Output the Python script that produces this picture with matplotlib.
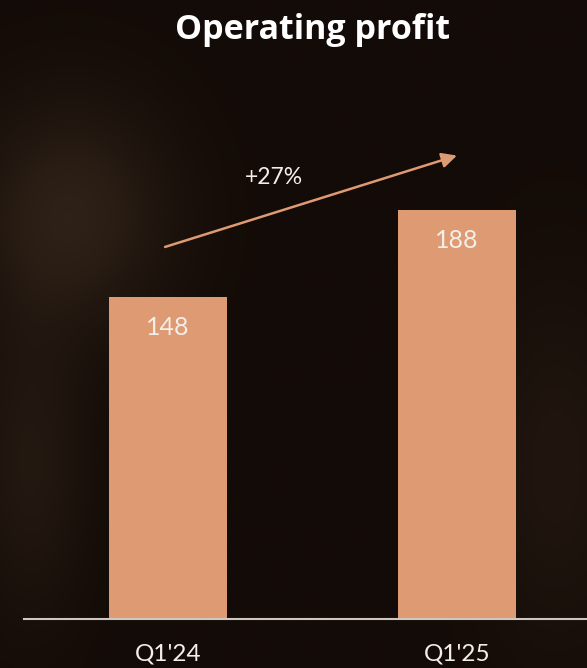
import matplotlib
matplotlib.use('Agg')
import matplotlib.pyplot as plt
import numpy as np

# data
quarters = ["Q1'24", "Q1'25"]
profit = [148, 188]
growth_label = '+27%'

bar_col = '#DE9A72'
bg_col = '#1b120d'
txt_col = '#F4EEE8'

plt.rcParams['font.family'] = ['Lato', 'DejaVu Sans']

fig = plt.figure(figsize=(5.87, 6.68), dpi=100)
fig.patch.set_facecolor(bg_col)

# soft brown background glow
bg = fig.add_axes([0, 0, 1, 1], zorder=-10)
yy, xx = np.mgrid[1:0:200j, 0:1:200j]
glow = (0.8 * np.exp(-((xx - 0.12) ** 2 / 0.03 + (yy - 0.68) ** 2 / 0.03))
        + 0.5 * np.exp(-((xx - 0.05) ** 2 / 0.01 + (yy - 0.3) ** 2 / 0.05))
        + 0.4 * np.exp(-((xx - 0.95) ** 2 / 0.02 + (yy - 0.3) ** 2 / 0.08)))
bg.imshow(glow, extent=[0, 1, 0, 1], cmap=matplotlib.colors.LinearSegmentedColormap.from_list(
    'bgc', ['#130b07', '#2e2117']), aspect='auto', origin='upper')
bg.axis('off')

ax = fig.add_axes([24 / 587, 49 / 668, 563 / 587, 619 / 668])
ax.set_facecolor('none')
x = np.arange(len(quarters))
ax.bar(x, profit, width=0.408, color=bar_col, zorder=2)

ax.set_xlim(-0.498, 1.45)
ax.set_ylim(0, 284.5)

for xi, v in zip(x, profit):
    ax.text(xi, v - 14, str(v), ha='center', va='center', color=txt_col,
            fontsize=18, zorder=3)

# growth arrow
ax.annotate('', xy=(x[1], profit[1] + 25), xytext=(x[0] - 0.01, profit[0] + 23),
            arrowprops=dict(arrowstyle='-|>,head_length=0.9,head_width=0.45',
                            color=bar_col, lw=1.8, shrinkA=0, shrinkB=0))
ax.text(0.367, 202.7, growth_label, ha='center', va='center', color=txt_col,
        fontsize=16.5)

ax.set_xticks(x)
ax.set_xticklabels(quarters, fontsize=17.5, color=txt_col)
ax.tick_params(axis='x', length=0, pad=18)
ax.set_yticks([])
for s in ['top', 'right', 'left']:
    ax.spines[s].set_visible(False)
ax.spines['bottom'].set_color('#cfc6bf')
ax.spines['bottom'].set_linewidth(1.5)

fig.text(0.5325, 0.955, 'Operating profit', ha='center', va='center',
         color='white', fontsize=24.5, fontweight='bold',
         family=['Open Sans', 'DejaVu Sans'])

fig.savefig('out.png', dpi=100, facecolor=fig.get_facecolor())
